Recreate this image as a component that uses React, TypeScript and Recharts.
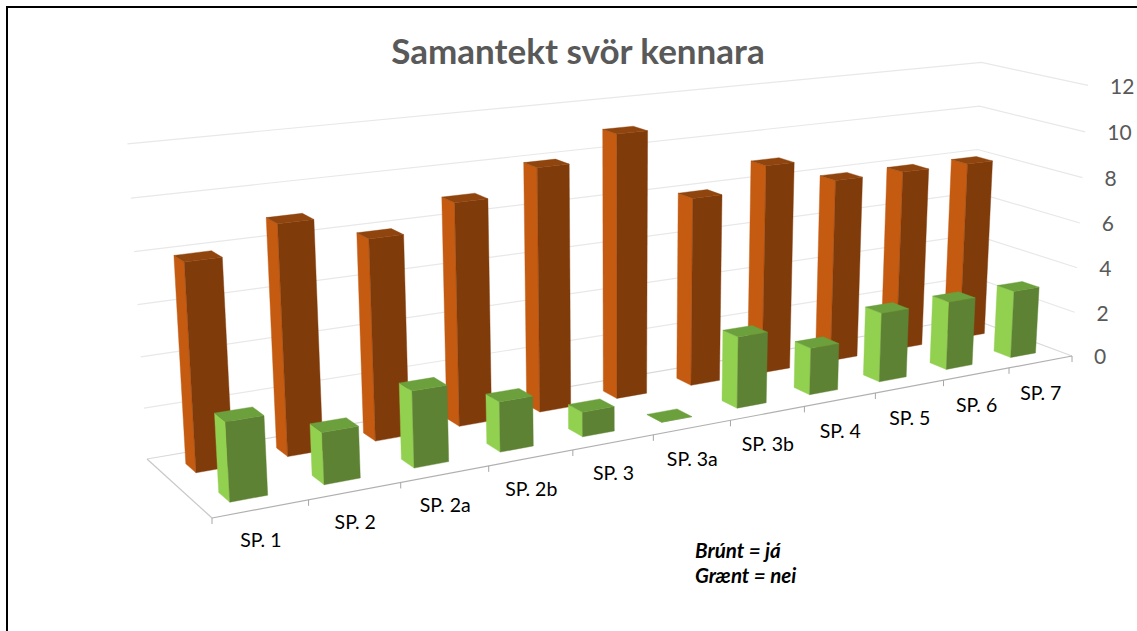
import React from 'react';
import { BarChart, Bar, XAxis, YAxis, CartesianGrid } from 'recharts';

const categories = ['SP. 1', 'SP. 2', 'SP. 2a', 'SP. 2b', 'SP. 3', 'SP. 3a', 'SP. 3b', 'SP. 4', 'SP. 5', 'SP. 6', 'SP. 7'];
const brunt = [8, 9, 8, 9, 10, 11, 8, 9, 8, 8, 8];
const graent = [3, 2, 3, 2, 1, 0, 3, 2, 3, 3, 3];
const valueTicks = [0, 2, 4, 6, 8, 10, 12];

const data = categories.map((name, i) => ({ name, brunt: brunt[i], graent: graent[i] }));

const W = 1137;
const H = 631;
const FONT = 'Lato, "Open Sans", sans-serif';

// Recharts lays the chart out flat over the whole page; project() then tilts
// those flat positions into the 3D view (u = along axis, v = depth, h = height, all 0..1)
const project = (u: number, v: number, h: number): [number, number] => {
  const w = 1 + 0.265 * u + 0.078 * v - 0.043 * h;
  return [
    (212 + 1144.1 * u - 53.5 * v - 26.6 * h) / w,
    (518 - 67.7 * u - 23.2 * v - 346 * h) / w,
  ];
};

const pts = (list: [number, number][]) => list.map((p) => `${p[0].toFixed(1)},${p[1].toFixed(1)}`).join(' ');

const Prism = (props: any) => {
  const { x, y, width, height, v0, v1, side, front, top } = props;
  const u0 = x / W;
  const u1 = (x + width) / W;
  const b = 1 - (y + height) / H;
  const t = 1 - y / H;
  const leftFace = [project(u0, v1, b), project(u0, v0, b), project(u0, v0, t), project(u0, v1, t)];
  const frontFace = [project(u0, v0, b), project(u1, v0, b), project(u1, v0, t), project(u0, v0, t)];
  const topFace = [project(u0, v0, t), project(u1, v0, t), project(u1, v1, t), project(u0, v1, t)];
  return (
    <g>
      <polygon points={pts(leftFace)} fill={side} stroke={side} strokeWidth={0.4} />
      <polygon points={pts(frontFace)} fill={front} stroke={front} strokeWidth={0.4} />
      <polygon points={pts(topFace)} fill={top} stroke={top} strokeWidth={0.4} />
    </g>
  );
};

// back wall + right wall lines, one set per value tick; the floor edges come with the 0 line
const WallLine = (props: any) => {
  const level = 1 - props.y1 / H;
  const a = project(0, 1, level);
  const b = project(1, 1, level);
  const c = project(1, 0, level);
  const isFloor = level < 0.001;
  const o = project(0, 0, 0);
  return (
    <g fill="none">
      <polyline points={pts([a, b, c])} stroke={isFloor ? '#D9D9D9' : '#E8E8E8'} strokeWidth={1.2} />
      {isFloor && <line x1={a[0]} y1={a[1]} x2={o[0]} y2={o[1]} stroke="#C8C8C8" strokeWidth={1.2} />}
      {isFloor && <line x1={o[0]} y1={o[1]} x2={c[0]} y2={c[1]} stroke="#B0B0B0" strokeWidth={1.2} />}
    </g>
  );
};

const CategoryTick = (props: any) => {
  const { x, index, payload } = props;
  const slot = 1 / categories.length;
  const u = x / W;
  const p = project(u, 0, 0);
  const t0 = project(u - slot / 2, 0, 0);
  const t1 = project(u + slot / 2, 0, 0);
  return (
    <g>
      <line x1={t0[0]} y1={t0[1]} x2={t0[0]} y2={t0[1] + 6} stroke="#A6A6A6" />
      {index === categories.length - 1 && <line x1={t1[0]} y1={t1[1]} x2={t1[0]} y2={t1[1] + 6} stroke="#A6A6A6" />}
      <text x={p[0]} y={p[1] + 30.5} textAnchor="middle" dominantBaseline="central" fontFamily={FONT} fontSize={19.5} fill="#000">
        {payload.value}
      </text>
    </g>
  );
};

const ValueTick = (props: any) => {
  const { y, payload } = props;
  const p = project(1, 0, 1 - y / H);
  return (
    <text x={p[0] + 22} y={p[1]} textAnchor="start" dominantBaseline="central" fontFamily={FONT} fontSize={21} fill="#595959">
      {payload.value}
    </text>
  );
};

const noteStyle: React.CSSProperties = {
  position: 'absolute',
  left: 695,
  fontFamily: FONT,
  fontSize: 20.5,
  fontWeight: 700,
  fontStyle: 'italic',
  color: '#000',
  whiteSpace: 'nowrap',
};

export default function App() {
  return (
    <div style={{ position: 'absolute', left: 0, top: 0, width: W, height: H, overflow: 'hidden', background: '#fff' }}>
      <div style={{ position: 'absolute', left: 6, top: 6, right: 0, bottom: 0, borderLeft: '2px solid #000', borderTop: '2px solid #000' }} />
      <BarChart width={W} height={H} data={data} margin={{ top: 0, right: 0, bottom: -1, left: -1 }} barCategoryGap="30%">
        <CartesianGrid xAxisId="front" vertical={false} horizontal={WallLine as any} />
        <XAxis xAxisId="back" dataKey="name" hide />
        <XAxis xAxisId="front" dataKey="name" height={1} axisLine={false} tickLine={false} interval={0} tick={CategoryTick as any} />
        <YAxis width={1} domain={[0, 12]} ticks={valueTicks} interval={0} axisLine={false} tickLine={false} tick={ValueTick as any} />
        <Bar
          xAxisId="back"
          dataKey="brunt"
          isAnimationActive={false}
          shape={(p: any) => <Prism {...p} v0={0.665} v1={0.825} side="#C55A11" front="#803B0B" top="#8F450D" />}
        />
        <Bar
          xAxisId="front"
          dataKey="graent"
          isAnimationActive={false}
          shape={(p: any) => <Prism {...p} v0={0.165} v1={0.325} side="#92D050" front="#5E8233" top="#6BA03C" />}
        />
      </BarChart>
      <div style={{ position: 'absolute', left: 0, width: 1156, top: 29, textAlign: 'center', fontFamily: FONT, fontSize: 35, fontWeight: 700, color: '#595959' }}>
        Samantekt svör kennara
      </div>
      <div style={{ ...noteStyle, top: 538 }}>Brúnt = já</div>
      <div style={{ ...noteStyle, top: 563 }}>Grænt = nei</div>
    </div>
  );
}
